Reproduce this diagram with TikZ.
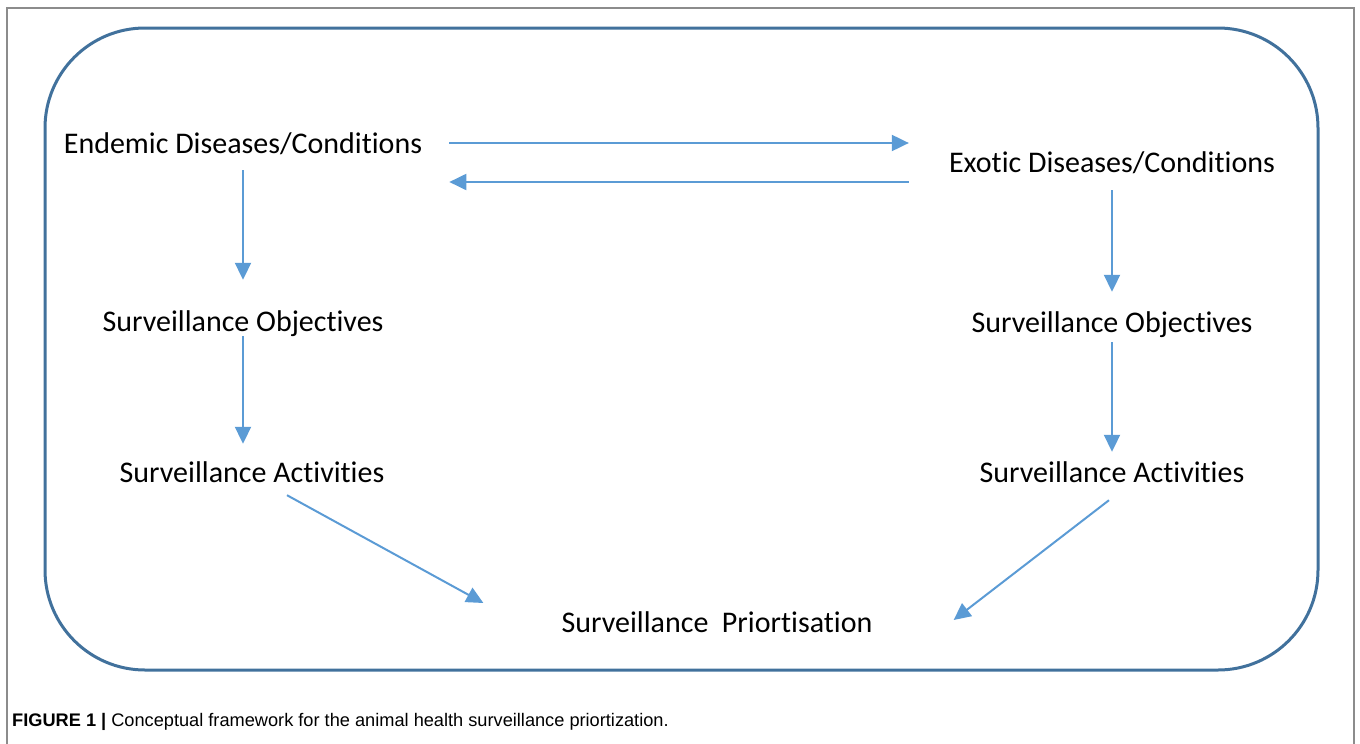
\documentclass[tikz,border=0pt]{standalone}
\usepackage{fontspec}
\setmainfont{Carlito}[Ligatures=NoCommon]
\newfontfamily\captionfont{Liberation Sans}
\usetikzlibrary{arrows.meta}

\definecolor{framegray}{HTML}{8C8C8C}
\definecolor{boxblue}{HTML}{41719C}
\definecolor{flowblue}{HTML}{5B9BD5}

\tikzset{
  flow/.style={draw=flowblue, line width=2pt, -{Triangle[length=17pt,width=16pt]}},
  stage/.style={font=\fontsize{30}{34}\selectfont, inner sep=0pt, text height=20pt, text depth=0pt}
}

\begin{document}
\begin{tikzpicture}[x=1pt,y=-1pt]
  \useasboundingbox (0,0) rectangle (1360,744);

  \draw[framegray, line width=1.5pt] (7,744) -- (7,8) -- (1354,8) -- (1354,744);
  \draw[boxblue, line width=3pt, rounded corners=100pt] (45,28) rectangle (1318,670);

  \begin{scope}[every node/.style={stage}]
    \node (endemic) at (243,143)  {Endemic Diseases/Conditions};
    \node (exotic)  at (1112,162) {Exotic Diseases/Conditions};
    \node (objL)    at (243,321)  {Surveillance Objectives};
    \node (objR)    at (1112,322) {Surveillance Objectives};
    \node (actL)    at (252,472)  {Surveillance Activities};
    \node (actR)    at (1112,472) {Surveillance Activities};
    \node (prior)   at (717,622)  {Surveillance\ \ Priortisation};
  \end{scope}

  \begin{scope}[every edge/.style={flow}]
    \path ([xshift=27pt]endemic.east) edge ([xshift=-40pt]endemic.east -| exotic.west);
    \path ([xshift=-40pt,yshift=-20pt]exotic.west) edge ([xshift=27pt,yshift=-20pt]exotic.west -| endemic.east);
    \path ([yshift=-17pt]endemic.south) edge ([yshift=31pt]objL.north);
    \path ([yshift=-5pt]objL.south) edge ([yshift=18pt]objL.south |- actL.north);
    \path ([yshift=-18pt]exotic.south) edge ([yshift=20pt]objR.north);
    \path ([yshift=-10pt]objR.south) edge ([yshift=10pt]actR.north);
    \path ([xshift=35pt,yshift=-13pt]actL.south) edge ([xshift=-78pt,yshift=19pt]prior.west);
    \path ([xshift=-3pt,yshift=-18pt]actR.south) edge ([xshift=81pt,yshift=2pt]prior.east);
  \end{scope}

  \node[anchor=west, inner sep=0pt, font=\captionfont\fontsize{18.2}{21}\selectfont] (caption) at (12,722)
    {\textbf{FIGURE 1 |} Conceptual framework for the animal health surveillance priortization.};
\end{tikzpicture}
\end{document}
